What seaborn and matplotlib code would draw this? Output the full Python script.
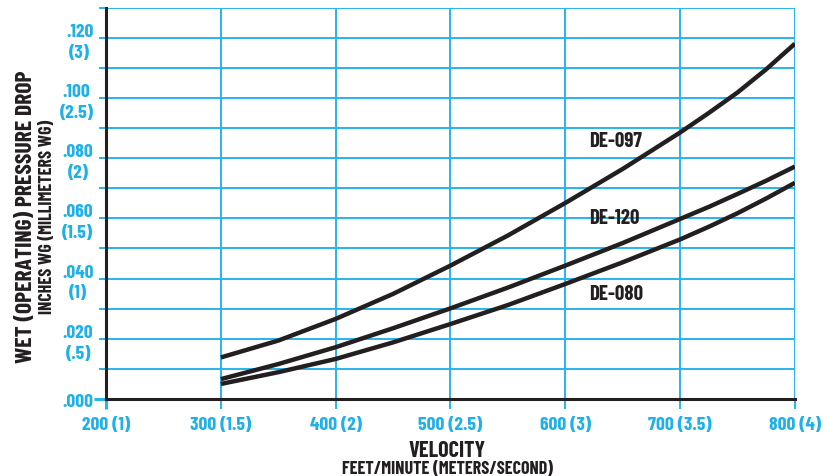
import pandas as pd
import numpy as np
import matplotlib
matplotlib.use("Agg")
import matplotlib.pyplot as plt
import seaborn as sns

# Data (velocity in ft/min, pressure drop in inches WG)
velocity = [300, 350, 400, 450, 500, 550, 600, 650, 700, 725, 750, 775, 800]
de_097 = [0.0138, 0.0194, 0.0266, 0.0349, 0.0443, 0.0543, 0.0651, 0.0764, 0.0885, 0.0950, 0.1018, 0.1095, 0.1180]
de_120 = [0.0066, 0.0116, 0.0172, 0.0235, 0.0301, 0.0370, 0.0443, 0.0518, 0.0598, 0.0638, 0.0681, 0.0725, 0.0772]
de_080 = [0.0050, 0.0089, 0.0133, 0.0188, 0.0249, 0.0312, 0.0382, 0.0454, 0.0530, 0.0572, 0.0617, 0.0666, 0.0718]

series_names = ["DE-097", "DE-120", "DE-080"]
label_x = [621, 621, 621]
label_y = [0.0857, 0.0604, 0.0349]

x_ticks = [200, 300, 400, 500, 600, 700, 800]
x_tick_labels = ["200 (1)", "300 (1.5)", "400 (2)", "500 (2.5)", "600 (3)", "700 (3.5)", "800 (4)"]
y_ticks = [0.00, 0.02, 0.04, 0.06, 0.08, 0.10, 0.12]
y_tick_labels = [".000", ".020\n(.5)", ".040\n(1)", ".060\n(1.5)", ".080\n(2)", ".100\n(2.5)", ".120\n(3)"]
y_minor = [0.01, 0.03, 0.05, 0.07, 0.09, 0.11, 0.13]

df = pd.DataFrame({
    "velocity": velocity * 3,
    "drop": de_097 + de_120 + de_080,
    "model": [series_names[0]] * len(velocity) + [series_names[1]] * len(velocity) + [series_names[2]] * len(velocity),
})

sns.set_theme(style="white")
plt.rcParams["font.family"] = ["Barlow Condensed", "DejaVu Sans"]
plt.rcParams["font.weight"] = "bold"

grid_blue = "#29b4ec"
text_blue = "#1fb0e8"
ink = "#231f20"

fig = plt.figure(figsize=(8.28, 4.77), dpi=100)
ax = fig.add_axes([0.128, 0.1614, 0.832, 0.8206])

sns.lineplot(data=df, x="velocity", y="drop", hue="model",
             palette=[ink, ink, ink], linewidth=3.2, legend=False, ax=ax,
             solid_capstyle="butt", solid_joinstyle="round")

ax.set_xlim(200, 800)
ax.set_ylim(0, 0.13)
ax.set_xticks(x_ticks)
ax.set_xticklabels(x_tick_labels)
ax.set_yticks(y_ticks)
ax.set_yticklabels(y_tick_labels, multialignment="center", linespacing=1.3)
ax.set_yticks(y_minor, minor=True)

ax.grid(True, which="both", color=grid_blue, linewidth=1.4)
ax.set_axisbelow(True)

for side in ["top", "right"]:
    ax.spines[side].set_visible(False)
for side in ["left", "bottom"]:
    ax.spines[side].set_color(ink)
    ax.spines[side].set_linewidth(2.2)
    ax.spines[side].set_zorder(5)

ax.tick_params(axis="x", which="major", length=7, width=1.4, color=grid_blue,
               pad=5, labelsize=14, labelcolor=text_blue, bottom=True)
ax.tick_params(axis="y", which="both", length=5, width=1.4, color=grid_blue,
               pad=4, labelsize=14, labelcolor=text_blue, left=True)
for lbl in ax.get_xticklabels() + ax.get_yticklabels():
    lbl.set_fontweight("bold")

# origin ticks are drawn in black, like the axis lines
ax.xaxis.get_major_ticks()[0].tick1line.set_color(ink)
ax.xaxis.get_major_ticks()[0].tick1line.set_markeredgewidth(2.2)
ax.yaxis.get_major_ticks()[0].tick1line.set_color(ink)
ax.yaxis.get_major_ticks()[0].tick1line.set_markeredgewidth(2.2)
ax.yaxis.get_major_ticks()[0].tick1line.set_markersize(9)

for name, lx, ly in zip(series_names, label_x, label_y):
    ax.text(lx, ly, name, color=ink, fontsize=15, fontweight="bold",
            ha="left", va="center")

ax.set_xlabel("")
ax.set_ylabel("")
fig.text(0.540, 0.054, "VELOCITY", ha="center", va="center",
         fontsize=16, fontweight="bold", color=ink)
fig.text(0.540, 0.016, "FEET/MINUTE (METERS/SECOND)", ha="center", va="center",
         fontsize=13, fontweight="bold", color=ink)
fig.text(0.031, 0.545, "WET (OPERATING) PRESSURE DROP", rotation=90,
         ha="center", va="center", fontsize=17, fontweight="bold", color=ink)
fig.text(0.057, 0.545, "INCHES WG (MILLIMETERS WG)", rotation=90,
         ha="center", va="center", fontsize=13, fontweight="bold", color=ink)

fig.savefig("out.png", dpi=100)
